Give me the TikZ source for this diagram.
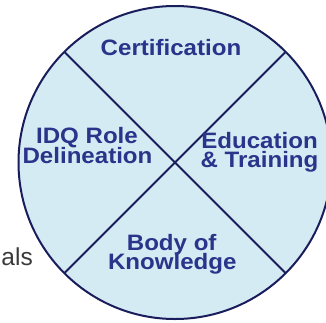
\documentclass[tikz,border=0pt]{standalone}
\usepackage{fontspec}
\setmainfont{Liberation Sans}
\newfontfamily\widesans[FakeStretch=1.08]{Liberation Sans}
\definecolor{rim}{HTML}{1A1D5C}
\definecolor{disc}{HTML}{D4EBF3}
\definecolor{lbl}{HTML}{2A348A}
\definecolor{side}{HTML}{3A3A3A}
\begin{document}
\begin{tikzpicture}[x=1pt,y=-1pt,
  rimline/.style={draw=rim, line width=2pt},
  quad/.style={font=\widesans\bfseries\fontsize{22.3}{22.3}\selectfont,
               text=lbl, inner sep=0pt, anchor=base},
  sidetext/.style={font=\fontsize{24.5}{24.5}\selectfont, text=side,
               inner sep=0pt, anchor=base east}]
  \useasboundingbox (0,0) rectangle (326,322);

  % the disc and its two diagonals
  \node[circle, rimline, fill=disc, minimum size=313pt, outer sep=0pt,
        inner sep=0pt] (disk) at (175,162.5) {};
  \draw[rimline] (disk.north west) -- (disk.south east);
  \draw[rimline] (disk.north east) -- (disk.south west);

  % quadrant labels
  \node[quad] (cert) at (171,55) {Certification};
  \node[quad] (idqa) at (87,143.5) {IDQ Role};
  \node[quad] (idqb) at (87.5,163) {Delineation};
  \node[quad] (edua) at (259.5,148.5) {Education};
  \node[quad] (edub) at (259.5,167.5) {\& Training};
  \node[quad] (boka) at (171.7,250.5) {Body of};
  \node[quad] (bokb) at (172.3,269) {Knowledge};

  % text running in from the left
  \node[sidetext] (side) at (33,265.5) {als};
\end{tikzpicture}
\end{document}
